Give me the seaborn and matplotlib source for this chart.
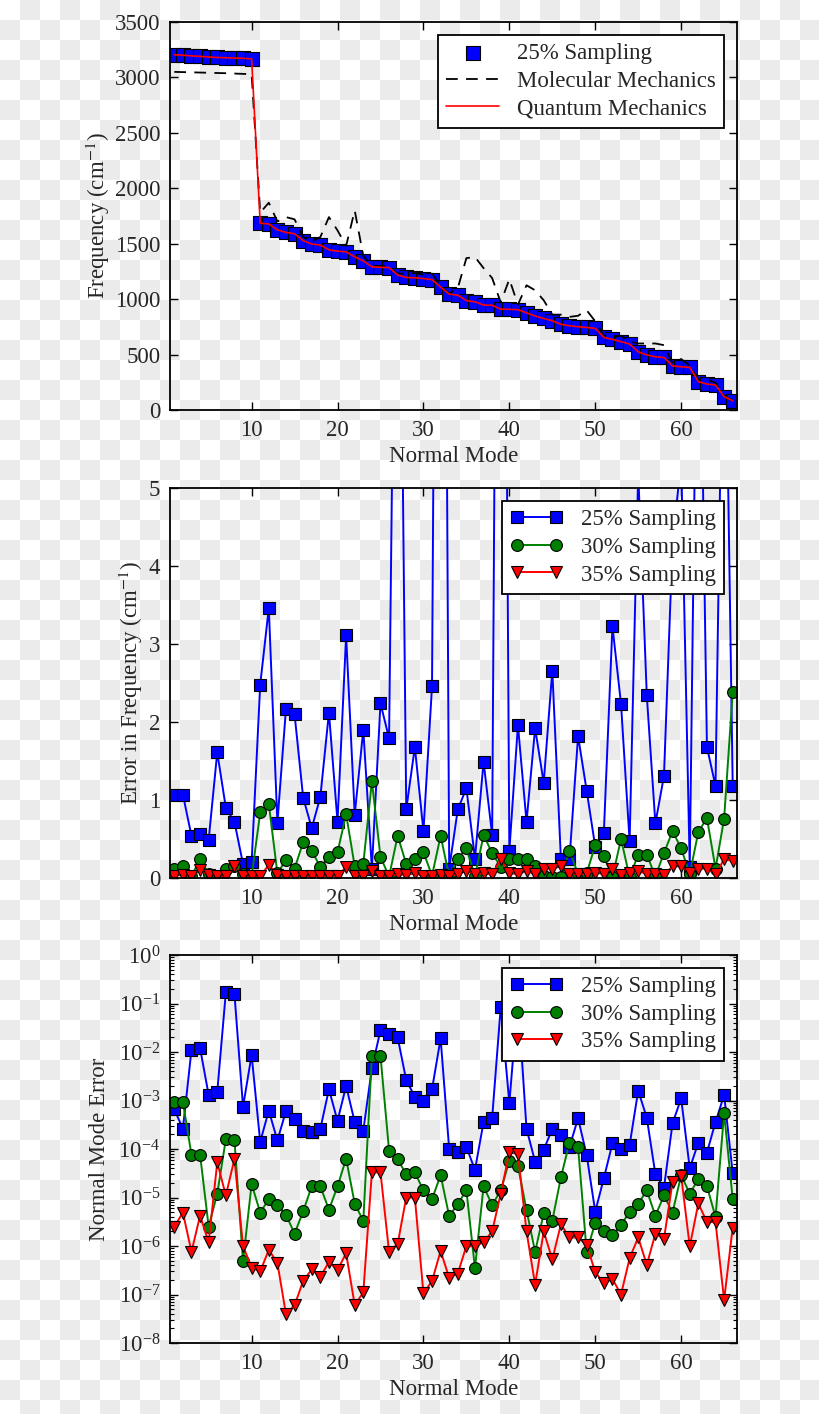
import numpy as np
import pandas as pd
import matplotlib
matplotlib.use("Agg")
import matplotlib.pyplot as plt
from matplotlib.ticker import LogLocator, NullFormatter
import seaborn as sns

# --- data ---
modes = np.arange(1, 67)

freq_qm = [3205, 3200, 3195, 3190, 3185, 3180, 3178, 3175, 3172, 3168,
           1685, 1678, 1625, 1602, 1590, 1528, 1497, 1488, 1445, 1433,
           1427, 1382, 1345, 1292, 1287, 1285, 1218, 1196, 1192, 1186,
           1176, 1110, 1045, 1036, 987, 976, 947, 945, 910, 908,
           905, 877, 848, 826, 805, 773, 760, 751, 745, 736,
           655, 637, 616, 595, 525, 497, 480, 474, 397, 390,
           385, 256, 234, 225, 120, 84]
freq_25 = freq_qm  # sampled frequencies sit on top of the QM ones
freq_mm = [3050, 3048, 3046, 3044, 3042, 3040, 3038, 3035, 3032, 3030,
           1780, 1870, 1700, 1740, 1720, 1560, 1520, 1560, 1740, 1620,
           1480, 1800, 1390, 1300, 1300, 1290, 1230, 1230, 1235, 1220,
           1230, 1120, 1050, 1100, 1370, 1380, 1280, 1190, 970, 1180,
           950, 1125, 1080, 990, 860, 860, 840, 850, 900, 800,
           670, 655, 670, 620, 600, 600, 600, 585, 420, 460,
           400, 270, 275, 245, 125, 88]

err_25 = [1.06, 1.07, 0.54, 0.56, 0.49, 1.61, 0.90, 0.72, 0.18, 0.20,
          2.48, 3.46, 0.71, 2.17, 2.10, 1.03, 0.64, 1.04, 2.12, 0.72,
          3.11, 0.81, 1.90, 0.12, 2.24, 1.79, 11.5, 0.88, 1.68, 0.60,
          2.46, 20.0, 0.12, 0.88, 1.15, 0.25, 1.49, 0.55, 18.0, 0.35,
          1.96, 0.72, 1.92, 1.22, 2.66, 0.25, 0.24, 1.82, 1.12, 0.40,
          0.58, 3.23, 2.23, 0.47, 5.2, 2.34, 0.70, 1.31, 4.3, 5.35,
          0.14, 9.0, 1.68, 1.18, 8.5, 1.18]
err_30 = [0.11, 0.15, 0.02, 0.25, 0.05, 0.03, 0.11, 0.15, 0.05, 0.02,
          0.84, 0.95, 0.06, 0.23, 0.12, 0.46, 0.35, 0.14, 0.27, 0.33,
          0.82, 0.15, 0.18, 1.24, 0.27, 0.02, 0.54, 0.18, 0.24, 0.33,
          0.03, 0.54, 0.02, 0.25, 0.38, 0.02, 0.55, 0.32, 0.14, 0.24,
          0.24, 0.24, 0.15, 0.02, 0.01, 0.01, 0.35, 0.05, 0.06, 0.42,
          0.28, 0.01, 0.50, 0.01, 0.30, 0.30, 0.02, 0.32, 0.60, 0.38,
          0.05, 0.59, 0.77, 0.12, 0.76, 2.38]
err_35 = [0.03, 0.04, 0.02, 0.10, 0.04, 0.03, 0.02, 0.15, 0.03, 0.02,
          0.02, 0.17, 0.04, 0.03, 0.02, 0.03, 0.02, 0.03, 0.02, 0.03,
          0.14, 0.03, 0.02, 0.09, 0.03, 0.02, 0.05, 0.04, 0.06, 0.03,
          0.03, 0.04, 0.02, 0.05, 0.09, 0.05, 0.06, 0.05, 0.24, 0.06,
          0.05, 0.09, 0.05, 0.12, 0.12, 0.15, 0.05, 0.05, 0.05, 0.07,
          0.05, 0.12, 0.04, 0.07, 0.09, 0.05, 0.05, 0.04, 0.15, 0.15,
          0.07, 0.12, 0.12, 0.05, 0.24, 0.22]

nm_25 = [6.6e-4, 2.6e-4, 1.1e-2, 1.2e-2, 1.3e-3, 1.5e-3, 0.17, 0.16, 7.4e-4, 8.7e-3,
         1.4e-4, 6.2e-4, 1.5e-4, 6.1e-4, 4.2e-4, 2.4e-4, 2.2e-4, 2.6e-4, 1.7e-3, 3.8e-4,
         2.0e-3, 3.6e-4, 2.4e-4, 4.6e-3, 2.8e-2, 2.4e-2, 2.0e-2, 2.6e-3, 1.2e-3, 1.0e-3,
         1.7e-3, 1.9e-2, 9.8e-5, 8.5e-5, 1.1e-4, 3.7e-5, 3.6e-4, 4.4e-4, 8.6e-2, 8.8e-4,
         0.13, 2.6e-4, 5.5e-5, 9.6e-5, 2.6e-4, 1.9e-4, 1.1e-4, 4.3e-4, 7.5e-5, 5.1e-6,
         2.5e-5, 1.3e-4, 1.0e-4, 1.2e-4, 1.6e-3, 4.4e-4, 3.0e-5, 1.6e-5, 3.4e-4, 1.1e-3,
         4.0e-5, 1.35e-4, 8.4e-5, 3.6e-4, 1.3e-3, 3.2e-5]
nm_30 = [9.3e-4, 9.3e-4, 7.6e-5, 7.6e-5, 2.5e-6, 1.2e-5, 1.6e-4, 1.55e-4, 4.8e-7, 1.9e-5,
         4.9e-6, 9.2e-6, 7.1e-6, 4.4e-6, 1.8e-6, 5.2e-6, 1.7e-5, 1.7e-5, 5.6e-6, 1.7e-5,
         6.3e-5, 7.5e-6, 3.3e-6, 8.3e-3, 8.3e-3, 9.3e-5, 6.1e-5, 3.0e-5, 3.3e-5, 1.4e-5,
         9.2e-6, 2.9e-5, 4.1e-6, 7.4e-6, 1.4e-5, 3.5e-7, 1.7e-5, 7.0e-6, 1.4e-5, 5.7e-5,
         4.5e-5, 5.5e-6, 7.6e-7, 4.7e-6, 3.3e-6, 2.6e-5, 1.35e-4, 1.1e-4, 7.6e-7, 3.0e-6,
         2.0e-6, 1.7e-6, 2.7e-6, 5.1e-6, 7.4e-6, 1.4e-5, 4.2e-6, 1.1e-5, 4.9e-6, 2.9e-5,
         1.2e-5, 2.4e-5, 1.7e-5, 4.0e-6, 5.5e-4, 9.3e-6]
nm_35 = [2.5e-6, 4.9e-6, 7.6e-7, 4.2e-6, 1.2e-6, 5.3e-5, 1.1e-5, 6.2e-5, 1.0e-6, 3.6e-7,
         3.0e-7, 8.3e-7, 4.5e-7, 3.9e-8, 6.0e-8, 1.9e-7, 3.3e-7, 2.3e-7, 4.7e-7, 3.2e-7,
         7.1e-7, 6.1e-8, 1.1e-7, 3.3e-5, 3.3e-5, 7.6e-7, 1.1e-6, 1.0e-5, 1.0e-5, 1.05e-7,
         1.9e-7, 7.9e-7, 2.2e-7, 2.7e-7, 1.0e-6, 9.8e-7, 1.2e-6, 2.0e-6, 1.2e-5, 8.5e-5,
         7.9e-5, 2.0e-6, 1.6e-7, 2.0e-6, 5.3e-7, 2.8e-6, 1.5e-6, 1.5e-6, 1.05e-6, 2.9e-7,
         1.7e-7, 2.1e-7, 1.0e-7, 5.6e-7, 1.5e-6, 4.1e-7, 1.8e-6, 1.4e-6, 2.1e-5, 2.8e-5,
         9.8e-7, 7.6e-6, 3.1e-6, 3.1e-6, 7.7e-8, 2.4e-6]

sampling_labels = ["25% Sampling", "30% Sampling", "35% Sampling"]

# --- style ---
sns.set_theme(style="ticks")
plt.rcParams["font.family"] = ["Liberation Serif", "DejaVu Serif"]
plt.rcParams["mathtext.fontset"] = "stix"
plt.rcParams["font.size"] = 16.5
plt.rcParams["axes.linewidth"] = 1.3
plt.rcParams["legend.fancybox"] = False
plt.rcParams["legend.edgecolor"] = "black"
plt.rcParams["legend.framealpha"] = 1.0

FS = 16.5
LEG_KW = dict(loc="upper right", fontsize=FS, borderaxespad=0.55,
              handlelength=2.3, handletextpad=0.8, labelspacing=0.3,
              borderpad=0.35)


def style_axes(ax):
    ax.set_facecolor("none")
    for sp in ax.spines.values():
        sp.set_color("black")
        sp.set_linewidth(1.3)
    ax.tick_params(which="major", direction="in", top=True, right=True,
                   length=6, width=1.0, labelsize=FS, pad=7, color="black")
    ax.tick_params(which="minor", direction="in", top=True, right=True,
                   length=3, width=0.8, color="black")
    ax.set_xlim(0.5, 66.5)
    ax.set_xticks([10, 20, 30, 40, 50, 60])
    ax.set_xlabel("Normal Mode", fontsize=FS, labelpad=4)


def sampling_lines(ax, series):
    styles = [("blue", "s"), ("green", "o"), ("red", "v")]
    for vals, lab, (c, m) in zip(series, sampling_labels, styles):
        df = pd.DataFrame({"mode": modes, "val": vals})
        sns.lineplot(data=df, x="mode", y="val", ax=ax, color=c, marker=m,
                     markersize=8.5, markeredgecolor="black", markeredgewidth=0.8,
                     lw=1.4, label=lab, errorbar=None)
    leg = ax.legend(numpoints=2, **LEG_KW)
    leg.get_frame().set_linewidth(1.3)


fig = plt.figure(figsize=(8.2, 14.14), dpi=100)
fig.patch.set_facecolor("white")

# checkerboard backdrop (the reference sits on a transparency grid)
cell = 20
yy, xx = np.mgrid[0:1414, 0:820]
board = ((xx // cell + yy // cell) % 2).astype(float)
rgb = np.where(board[..., None] == 1, 0.925, 1.0) * np.ones((1414, 820, 3))
fig.figimage(rgb, xo=0, yo=0, origin="upper", zorder=-5)

W = 567 / 820
ax1 = fig.add_axes([170 / 820, 1 - 410 / 1414, W, 388 / 1414])
ax2 = fig.add_axes([170 / 820, 1 - 878 / 1414, W, 390 / 1414])
ax3 = fig.add_axes([170 / 820, 1 - 1343 / 1414, W, 388 / 1414])

# --- panel 1: frequencies ---
sns.scatterplot(x=modes, y=freq_25, ax=ax1, marker="s", s=95, color="blue",
                edgecolor="black", linewidth=0.8, label="25% Sampling", zorder=2)
sns.lineplot(x=modes, y=freq_mm, ax=ax1, color="black", lw=1.3,
             label="Molecular Mechanics", errorbar=None, zorder=3)
ax1.lines[-1].set_linestyle((0, (6.5, 4.6)))
sns.lineplot(x=modes, y=freq_qm, ax=ax1, color="red", lw=1.2,
             label="Quantum Mechanics", errorbar=None, zorder=4)
style_axes(ax1)
ax1.set_ylim(0, 3500)
ax1.set_yticks(np.arange(0, 3501, 500))
ax1.set_ylabel("Frequency (cm$^{-1}$)", fontsize=FS, labelpad=2)
leg1 = ax1.legend(scatterpoints=1, **LEG_KW)
leg1.get_frame().set_linewidth(1.3)

# --- panel 2: error in frequency ---
sampling_lines(ax2, [err_25, err_30, err_35])
style_axes(ax2)
ax2.set_ylim(0, 5)
ax2.set_yticks([0, 1, 2, 3, 4, 5])
ax2.set_ylabel("Error in Frequency (cm$^{-1}$)", fontsize=FS, labelpad=3)

# --- panel 3: normal mode error ---
sampling_lines(ax3, [nm_25, nm_30, nm_35])
style_axes(ax3)
ax3.set_yscale("log")
ax3.set_ylim(1e-8, 1)
ax3.yaxis.set_major_locator(LogLocator(base=10, numticks=20))
ax3.yaxis.set_minor_locator(LogLocator(base=10, subs=np.arange(2, 10), numticks=20))
ax3.yaxis.set_minor_formatter(NullFormatter())
ax3.set_ylabel("Normal Mode Error", fontsize=FS, labelpad=6)

fig.savefig("out.png", dpi=100)
